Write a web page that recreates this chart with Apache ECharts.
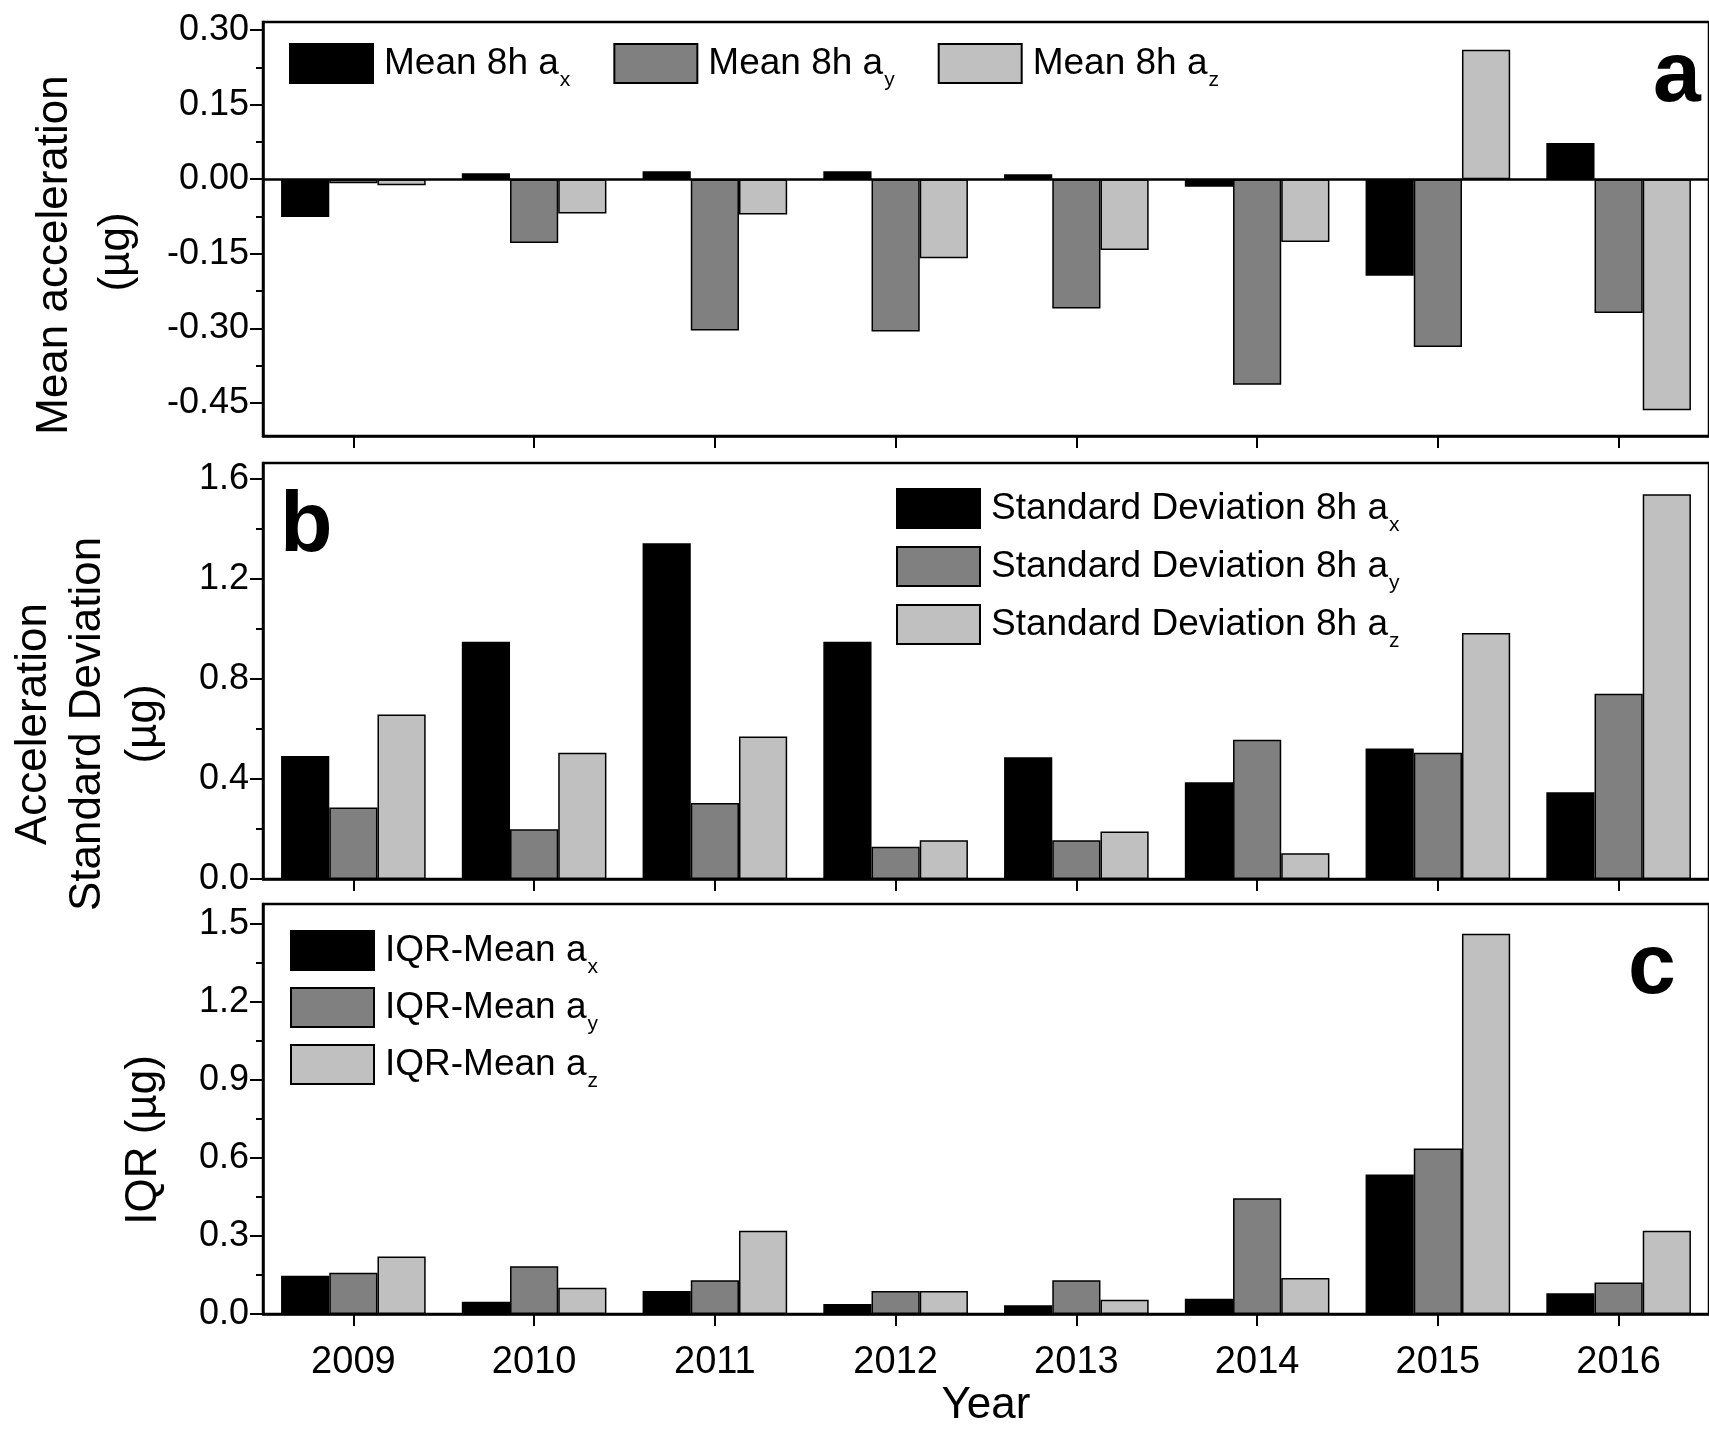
<!DOCTYPE html>
<html>
<head>
<meta charset="utf-8">
<script src="https://cdn.jsdelivr.net/npm/echarts@6/dist/echarts.min.js"></script>
<style>
html, body { margin: 0; padding: 0; background: #fff; }
#chart { width: 1709px; height: 1429px; }
</style>
</head>
<body>
<div id="chart"></div>
<script>
// Years on the shared category axis
const years = ['2009', '2010', '2011', '2012', '2013', '2014', '2015', '2016'];

// (a) Mean 8h acceleration, µg
const meanAx = [-0.076, 0.012, 0.016, 0.016, 0.010, -0.015, -0.194, 0.073];
const meanAy = [-0.008, -0.128, -0.304, -0.306, -0.260, -0.413, -0.337, -0.269];
const meanAz = [-0.012, -0.069, -0.071, -0.159, -0.142, -0.126, 0.260, -0.464];

// (b) Standard deviation over 8h, µg
const sdAx = [0.492, 0.950, 1.344, 0.950, 0.487, 0.387, 0.522, 0.347];
const sdAy = [0.286, 0.199, 0.304, 0.129, 0.155, 0.557, 0.505, 0.741];
const sdAz = [0.658, 0.505, 0.570, 0.155, 0.190, 0.103, 0.985, 1.540];

// (c) Interquartile range, µg
const iqrAx = [0.147, 0.047, 0.088, 0.038, 0.034, 0.059, 0.536, 0.080];
const iqrAy = [0.159, 0.184, 0.130, 0.088, 0.130, 0.445, 0.636, 0.121];
const iqrAz = [0.221, 0.101, 0.320, 0.088, 0.055, 0.138, 1.462, 0.320];

// Tick values (major = labelled, minor = short unlabelled ticks)
const ticksA = [-0.45, -0.30, -0.15, 0.00, 0.15, 0.30];
const minorA = [-0.375, -0.225, -0.075, 0.075, 0.225];
const ticksB = [0.0, 0.4, 0.8, 1.2, 1.6];
const minorB = [0.2, 0.6, 1.0, 1.4];
const ticksC = [0.0, 0.3, 0.6, 0.9, 1.2, 1.5];
const minorC = [0.15, 0.45, 0.75, 1.05, 1.35];

// Series names: base text + axis subscript
const legendA = [['Mean 8h a', 'x'], ['Mean 8h a', 'y'], ['Mean 8h a', 'z']];
const legendB = [['Standard Deviation 8h a', 'x'], ['Standard Deviation 8h a', 'y'], ['Standard Deviation 8h a', 'z']];
const legendC = [['IQR-Mean a', 'x'], ['IQR-Mean a', 'y'], ['IQR-Mean a', 'z']];

const FONT = '"Liberation Sans", Arial, Helvetica, sans-serif';
const fills = ['#000000', '#808080', '#c0c0c0'];

const chart = echarts.init(document.getElementById('chart'), null, { renderer: 'canvas' });

const grids = [
  { left: 263, right: -8, top: 22, height: 414 },
  { left: 263, right: -8, top: 463, height: 416 },
  { left: 263, right: -8, top: 904, height: 414 }
];

function xAxisFor(i, withLabels) {
  return {
    type: 'category', gridIndex: i, data: years, position: 'bottom',
    axisLine: { show: true, onZero: false, lineStyle: { color: '#000', width: 2.5 } },
    axisTick: { show: true, alignWithLabel: true, inside: false, length: 12, lineStyle: { color: '#000', width: 2 } },
    axisLabel: { show: withLabels, margin: 30, fontSize: 38, color: '#000', fontFamily: FONT },
    splitLine: { show: false },
    name: withLabels ? 'Year' : '', nameLocation: 'middle', nameGap: 70,
    nameTextStyle: { fontSize: 44, color: '#000', fontFamily: FONT }
  };
}

function majorY(i, min, max, ticks, digits) {
  return {
    type: 'value', gridIndex: i, min: min, max: max, position: 'left',
    axisLine: { show: true, lineStyle: { color: '#000', width: 2.5 } },
    axisTick: { show: true, inside: false, length: 13, customValues: ticks, lineStyle: { color: '#000', width: 2 } },
    axisLabel: { show: true, margin: 14, customValues: ticks, fontSize: 36, color: '#000', fontFamily: FONT,
      formatter: v => Number(v).toFixed(digits) },
    splitLine: { show: false }
  };
}

function minorY(i, min, max, ticks) {
  return {
    type: 'value', gridIndex: i, min: min, max: max, position: 'left',
    axisLine: { show: false },
    axisTick: { show: true, inside: false, length: 7, customValues: ticks, lineStyle: { color: '#000', width: 2 } },
    axisLabel: { show: false },
    splitLine: { show: false }
  };
}

// Legend text: base label plus a lowered, smaller subscript
function legendFor(names, pos) {
  return Object.assign({
    data: names.map(n => n[0] + n[1]),
    icon: 'rect', itemWidth: 83, itemHeight: 39, padding: 0,
    selectedMode: false,
    formatter: name => {
      const n = names.find(p => p[0] + p[1] === name);
      return '{t|' + n[0] + '}{s|' + n[1] + '}';
    },
    textStyle: {
      color: '#000', fontFamily: FONT, lineHeight: 39,
      rich: {
        t: { fontSize: 37, lineHeight: 39, color: '#000', fontFamily: FONT, padding: [0, 0, 0, 6] },
        s: { fontSize: 21, lineHeight: 39, color: '#000', fontFamily: FONT, padding: [17, 0, -17, 1] }
      }
    }
  }, pos);
}

function barSeries(name, data, k, xi, yi, extra) {
  return Object.assign({
    type: 'bar', name: name, data: data, xAxisIndex: xi, yAxisIndex: yi,
    barGap: '0%', barCategoryGap: '20%',
    itemStyle: { color: fills[k], borderColor: '#000', borderWidth: 1.5 },
    emphasis: { disabled: true }
  }, extra || {});
}

const zeroLine = {
  markLine: {
    silent: true, symbol: 'none', label: { show: false },
    lineStyle: { color: '#000', width: 2.5, type: 'solid' },
    data: [{ yAxis: 0 }]
  }
};

const titleStyle = { fontSize: 44, fontFamily: FONT, fill: '#000', align: 'center', verticalAlign: 'middle' };
function vText(text, x, y) {
  return { type: 'text', x: x, y: y, rotation: Math.PI / 2, style: Object.assign({ text: text }, titleStyle) };
}
function letter(text, x, y) {
  return { type: 'text', x: x, y: y,
    style: { text: text, fontSize: 86, fontWeight: 'bold', fontFamily: FONT, fill: '#000', align: 'left', verticalAlign: 'middle' } };
}

const option = {
  animation: false,
  backgroundColor: '#ffffff',
  grid: grids.map(g => Object.assign({ show: true, borderColor: '#000', borderWidth: 2.5, backgroundColor: 'transparent' }, g)),
  xAxis: [xAxisFor(0, false), xAxisFor(1, false), xAxisFor(2, true)],
  yAxis: [
    majorY(0, -0.516, 0.316, ticksA, 2), minorY(0, -0.516, 0.316, minorA),
    majorY(1, 0, 1.665, ticksB, 1), minorY(1, 0, 1.665, minorB),
    majorY(2, 0, 1.576, ticksC, 1), minorY(2, 0, 1.576, minorC)
  ],
  legend: [
    legendFor(legendA, { orient: 'horizontal', left: 289, top: 43, itemGap: 43 }),
    legendFor(legendB, { orient: 'vertical', left: 896, top: 488, itemGap: 10 }),
    legendFor(legendC, { orient: 'vertical', left: 290, top: 930, itemGap: 9 })
  ],
  series: [
    barSeries('Mean 8h ax', meanAx, 0, 0, 0, zeroLine),
    barSeries('Mean 8h ay', meanAy, 1, 0, 0),
    barSeries('Mean 8h az', meanAz, 2, 0, 0),
    barSeries('Standard Deviation 8h ax', sdAx, 0, 1, 2),
    barSeries('Standard Deviation 8h ay', sdAy, 1, 1, 2),
    barSeries('Standard Deviation 8h az', sdAz, 2, 1, 2),
    barSeries('IQR-Mean ax', iqrAx, 0, 2, 4),
    barSeries('IQR-Mean ay', iqrAy, 1, 2, 4),
    barSeries('IQR-Mean az', iqrAz, 2, 2, 4)
  ],
  graphic: [
    vText('Mean acceleration', 55, 255),
    vText('(\u00b5g)', 117, 252),
    vText('Acceleration', 34, 724),
    vText('Standard Deviation', 88, 724),
    vText('(\u00b5g)', 144, 724),
    vText('IQR (\u00b5g)', 144, 1140),
    letter('a', 1653, 77),
    letter('b', 280, 527),
    letter('c', 1628, 969)
  ]
};

chart.setOption(option);
</script>
</body>
</html>
